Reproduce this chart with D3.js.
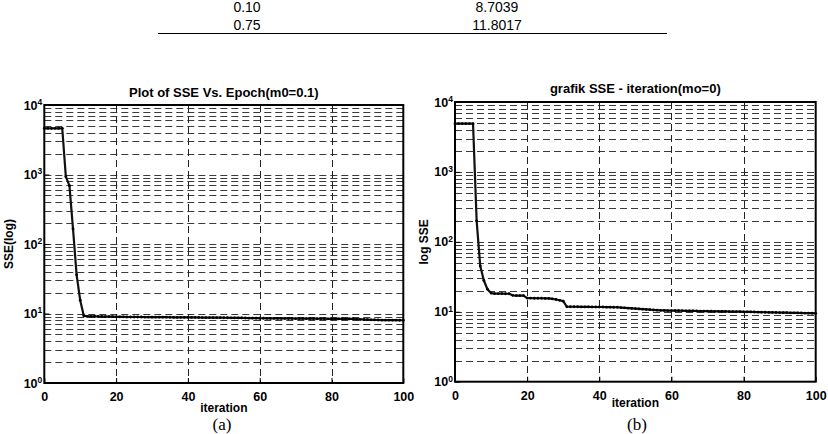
<!DOCTYPE html>
<html><head><meta charset="utf-8">
<script src="https://cdn.jsdelivr.net/npm/d3@7/dist/d3.min.js"></script>
<style>body{margin:0;background:#fff}svg{display:block}</style>
</head><body>
<svg id="c" width="828" height="434"></svg>
<script>
// ---- data ----
const tableMomentum = ["0.10", "0.75"];
const tableSSE = ["8.7039", "11.8017"];

const iterations = d3.range(0, 101); // 0..100
const xTicks = [0, 20, 40, 60, 80, 100];
const yDecades = [0, 1, 2, 3, 4];

// (a) momentum 0.1
const sseA = [
  4620, 4620, 4620, 4620, 4620, 4620, 930, 690, 165, 36,
  15.5, 9.3, 9.1, 9.1, 9.1, 9.05, 9.05, 9.0, 9.0, 9.0,
  8.95, 8.95, 8.95, 8.9, 8.9, 8.9, 8.9, 8.9, 8.88, 8.88,
  8.86, 8.86, 8.85, 8.85, 8.84, 8.83, 8.82, 8.82, 8.81, 8.8,
  8.8, 8.78, 8.77, 8.76, 8.75, 8.74, 8.73, 8.72, 8.71, 8.7,
  8.69, 8.68, 8.67, 8.66, 8.65, 8.64, 8.62, 8.6, 8.58, 8.56,
  8.55, 8.54, 8.53, 8.52, 8.51, 8.5, 8.5, 8.49, 8.48, 8.47,
  8.46, 8.45, 8.45, 8.44, 8.43, 8.42, 8.41, 8.4, 8.4, 8.39,
  8.38, 8.37, 8.37, 8.36, 8.36, 8.35, 8.35, 8.3, 8.25, 8.2,
  8.15, 8.1, 8.08, 8.06, 8.05, 8.04, 8.03, 8.02, 8.01, 8.0,
  8.0
];

// (b) momentum 0
const sseB = [
  4900, 4900, 4900, 4900, 4900, 4900, 200, 45, 28, 21,
  18.5, 18.2, 18.2, 18.2, 18.1, 18.1, 17.2, 17.0, 17.0, 17.0,
  15.7, 15.7, 15.6, 15.6, 15.6, 15.5, 15.5, 15.3, 15.0, 14.6,
  14.2, 11.8, 11.8, 11.8, 11.8, 11.75, 11.75, 11.75, 11.7, 11.7,
  11.7, 11.7, 11.65, 11.65, 11.6, 11.6, 11.5, 11.4, 11.3, 11.2,
  11.1, 11.0, 10.9, 10.8, 10.7, 10.6, 10.55, 10.5, 10.45, 10.4,
  10.4, 10.38, 10.36, 10.34, 10.32, 10.3, 10.28, 10.26, 10.24, 10.22,
  10.2, 10.18, 10.16, 10.14, 10.12, 10.1, 10.08, 10.06, 10.04, 10.02,
  10.0, 9.97, 9.95, 9.92, 9.9, 9.87, 9.85, 9.82, 9.8, 9.77,
  9.75, 9.72, 9.7, 9.67, 9.65, 9.62, 9.6, 9.57, 9.55, 9.52,
  9.5
];

const panels = [
  {values: sseA, title: "Plot of SSE Vs. Epoch(m0=0.1)", ylabel: "SSE(log)", caption: "(a)",
   x0: 44.3, x1: 403.3, y0: 105, y1: 383, titleY: 97, ylabX: 12.5, xlabY: 412, capX: 222},
  {values: sseB, title: "grafik SSE - iteration(mo=0)", ylabel: "log SSE", caption: "(b)",
   x0: 455, x1: 815.7, y0: 102, y1: 381.7, titleY: 92.5, ylabX: 427.5, xlabY: 407, capX: 637}
];

const svg = d3.select("#c");
const FONT = "'Liberation Sans', Arial, sans-serif";

// ---- table ----
const tbl = svg.append("g").attr("font-family", FONT).attr("font-size", 14).attr("fill", "#000");
tableMomentum.forEach((m, i) => {
  tbl.append("text").attr("x", 247).attr("y", 12 + i * 17.5).attr("text-anchor", "middle").text(m);
  tbl.append("text").attr("x", 497).attr("y", 12 + i * 17.5).attr("text-anchor", "middle").text(tableSSE[i]);
});
tbl.append("line").attr("x1", 158).attr("x2", 667).attr("y1", 33.5).attr("y2", 33.5)
  .attr("stroke", "#000").attr("stroke-width", 1.2);

// ---- panels ----
panels.forEach(p => {
  const g = svg.append("g");
  const x = d3.scaleLinear().domain([0, 100]).range([p.x0, p.x1]);
  const y = d3.scaleLog().domain([1, 1e4]).range([p.y1, p.y0]);

  // horizontal grid (major + minor)
  const hVals = [];
  yDecades.slice(0, 4).forEach(k => {
    for (let m = 1; m <= 9; m++) {
      const v = m * Math.pow(10, k);
      if (v > 1) hVals.push(v);
    }
  });
  g.append("g").selectAll("line").data(hVals).join("line")
    .attr("x1", p.x0).attr("x2", p.x1)
    .attr("y1", d => Math.round(y(d)) + 0.5).attr("y2", d => Math.round(y(d)) + 0.5)
    .attr("stroke", "#3a3a3a").attr("stroke-width", 1).attr("stroke-dasharray", "7,4");

  // vertical grid
  g.append("g").selectAll("line").data(xTicks.slice(1, -1)).join("line")
    .attr("x1", d => Math.round(x(d)) + 0.5).attr("x2", d => Math.round(x(d)) + 0.5)
    .attr("y1", p.y0).attr("y2", p.y1)
    .attr("stroke", "#222").attr("stroke-width", 1).attr("stroke-dasharray", "7,4");

  // axes via d3
  const xAxis = d3.axisBottom(x).tickValues(xTicks).tickSize(-5).tickPadding(9).tickFormat(d3.format("d"));
  const gx = g.append("g").attr("transform", `translate(0,${p.y1})`).call(xAxis);
  gx.select(".domain").remove();
  gx.selectAll("text").attr("font-family", FONT).attr("font-size", 12.5).attr("font-weight", "bold").attr("fill", "#000");
  gx.selectAll("line").attr("stroke", "#000");

  const yAxis = d3.axisLeft(y).tickValues(yDecades.map(k => Math.pow(10, k))).tickSize(-5).tickPadding(3).tickFormat(() => "");
  const gy = g.append("g").attr("transform", `translate(${p.x0},0)`).call(yAxis);
  gy.select(".domain").remove();
  gy.selectAll("line").attr("stroke", "#000");
  gy.selectAll(".tick").each(function(d) {
    const t = d3.select(this).append("text")
      .attr("x", -2).attr("dy", "0.32em").attr("text-anchor", "end")
      .attr("font-family", FONT).attr("font-weight", "bold").attr("font-size", 12.5).attr("fill", "#000");
    t.append("tspan").text("10");
    t.append("tspan").attr("dy", "-0.55em").attr("font-size", 8.5).text(Math.round(Math.log10(d)));
  });

  // line + markers
  const pts = iterations.map((it, i) => [it, p.values[i]]);
  g.append("path").datum(pts)
    .attr("fill", "none").attr("stroke", "#111").attr("stroke-width", 2.2).attr("stroke-linejoin", "round")
    .attr("d", d3.line().x(d => x(d[0])).y(d => y(d[1])));
  g.append("g").selectAll("circle").data(pts).join("circle")
    .attr("cx", d => x(d[0])).attr("cy", d => y(d[1])).attr("r", 1.4).attr("fill", "#000");

  // box
  g.append("rect").attr("x", p.x0).attr("y", p.y0).attr("width", p.x1 - p.x0).attr("height", p.y1 - p.y0)
    .attr("fill", "none").attr("stroke", "#000").attr("stroke-width", 2);

  // labels
  g.append("text").attr("x", (p.x0 + p.x1) / 2).attr("y", p.titleY).attr("text-anchor", "middle")
    .attr("font-family", FONT).attr("font-weight", "bold").attr("font-size", 13).text(p.title);
  g.append("text").attr("x", (p.x0 + p.x1) / 2).attr("y", p.xlabY).attr("text-anchor", "middle")
    .attr("font-family", FONT).attr("font-weight", "bold").attr("font-size", 12).text("iteration");
  g.append("text").attr("transform", `translate(${p.ylabX},${(p.y0 + p.y1) / 2}) rotate(-90)`)
    .attr("text-anchor", "middle")
    .attr("font-family", FONT).attr("font-weight", "bold").attr("font-size", 12).text(p.ylabel);
  g.append("text").attr("x", p.capX).attr("y", 430).attr("text-anchor", "middle")
    .attr("font-family", "'Liberation Serif', 'Times New Roman', serif").attr("font-size", 17).text(p.caption);
});
</script>
</body></html>
